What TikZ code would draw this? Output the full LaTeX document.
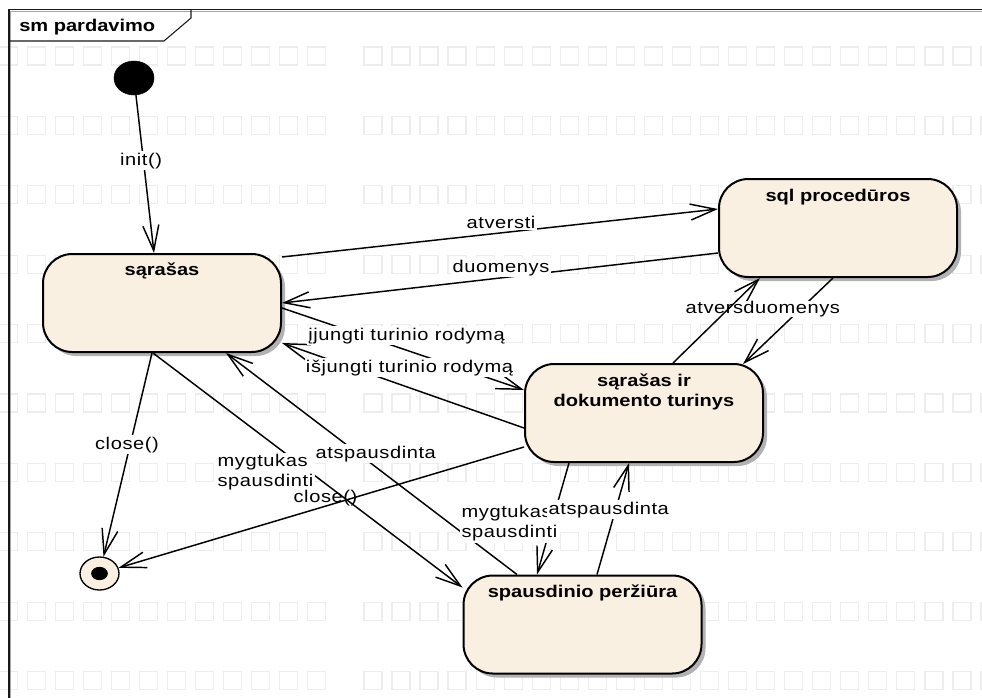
\documentclass[tikz,border=0pt]{standalone}
\usepackage{fontspec}
\setmainfont{Liberation Sans}[FakeStretch=1.18, LetterSpace=3.5]
\newfontfamily\titlefont{Liberation Sans}[FakeStretch=1.18]
\usetikzlibrary{arrows.meta,calc,shadows,shapes.geometric}
\definecolor{statefill}{RGB}{250,240,225}
\definecolor{gridgray}{RGB}{237,237,237}
\begin{document}
\begin{tikzpicture}[x=0.75pt,y=-0.75pt,
  every node/.style={font=\fontsize{12.75}{15}\selectfont},
  gridsq/.style={draw=gridgray, line width=0.9pt},
  statebox/.style={rectangle, draw=black, line width=1.5pt, fill=statefill,
    minimum width=178.5pt, minimum height=73.5pt, inner sep=0pt,
    rounded corners=22pt,
    drop shadow={shadow xshift=3pt, shadow yshift=-3pt, fill=black!30, opacity=1}},
  stitle/.style={font=\fontsize{12.75}{15}\selectfont\titlefont\bfseries, inner sep=0pt, anchor=base},
  conn/.style={draw=black, line width=1.1pt, -{Straight Barb[length=19pt,width=12pt]}},
  lbl/.style={fill=white, inner sep=1pt},
]
\useasboundingbox (0,0) rectangle (982,697);
% watermark squares
\foreach \j in {0,...,9}{
  \foreach \k in {0,...,35}{
    \ifnum\k=12\relax\else
      \draw[gridsq] ({-0.75+28.05*\k},{47+69.4*\j}) rectangle ++(18,18);
    \fi
  }
}
% frame
\draw[black!35, line width=1pt] (10.8,710) -- (10.8,11.3) -- (995,11.3);
\draw[black!90, line width=1pt] (9,710) -- (9,9.5) -- (995,9.5);
\draw[black!90, line width=0.8pt] (9,41) -- (164,41) -- (191,18) -- (191,9.5);
\node[font=\fontsize{12.75}{15}\selectfont\titlefont\bfseries, inner sep=0pt, anchor=base west] (ftitle) at (19,31) {sm pardavimo};

% states
\node[statebox] (sar) at (162,303) {};
\node[stitle] (sart) at (162,275) {sąrašas};
\node[statebox] (sql) at (838,228) {};
\node[stitle] (sqlt) at (838,201) {sql procedūros};
\node[statebox] (sdt) at (644,413) {};
\node[stitle] (sdta) at (644,386) {sąrašas ir};
\node[stitle] (sdtb) at (644,406) {dokumento turinys};
\node[statebox] (spp) at (582.5,624.5) {};
\node[stitle] (sppt) at (582.5,597) {spausdinio peržiūra};

% pseudo states
\node[ellipse, draw=black, fill=black, minimum width=30pt, minimum height=25.5pt, inner sep=0pt] (ini) at (134,78) {};
\node[ellipse, draw=black, line width=1pt, fill=statefill, minimum width=29.25pt, minimum height=24.75pt, inner sep=0pt] (fin) at (99.5,573.5) {};
\node[ellipse, fill=black, minimum width=12.5pt, minimum height=10pt, inner sep=0pt] (fincore) at (fin) {};

% connectors
\draw[conn] (ini) -- ($(sar.north)+(-8,0)$);
\draw[conn] ($(sar.east)+(0,-46)$) -- ($(sql.west)+(0,-19)$);
\draw[conn] ($(sql.west)+(0,25)$) -- (sar.east);
\draw[conn] ($(sar.east)+(0,5)$) -- ($(sdt.west)+(0,-23)$);
\draw[conn] ($(sdt.west)+(0,15)$) -- ($(sar.east)+(0,40)$);
\draw[conn] ($(sdt.north)+(29,0)$) -- ($(sql.south)+(-78,0)$);
\draw[conn] ($(sql.south)+(-5,0)$) -- ($(sdt.north)+(99,1)$);
\draw[conn] ($(sar.south)+(-9,0)$) -- ($(spp.west)+(0,-37)$);
\draw[conn] ($(spp.north)+(-65.5,0)$) -- ($(sar.south)+(64,0)$);
\draw[conn] ($(sar.south)+(-10,0)$) -- (fin);
\draw[conn] ($(sdt.west)+(0,34)$) -- (fin);
\draw[conn] ($(sdt.south)+(-75,0)$) -- ($(spp.north)+(-45.5,0)$);
\draw[conn] ($(spp.north)+(14.5,0)$) -- ($(sdt.south)+(-15,0)$);

% labels
\node[lbl, anchor=base] (linit) at (141,165) {init()};
\node[lbl, anchor=base] (latv) at (501,228) {atversti};
\node[lbl, anchor=base] (lduo) at (501,272) {duomenys};
\node[lbl, anchor=base] (lijun) at (406.5,340) {įjungti turinio rodymą};
\node[lbl, anchor=base] (lisjun) at (409.5,372) {išjungti turinio rodymą};
\node[lbl, inner sep=0pt, anchor=base west] (lduo2) at (743,313) {duomenys};
\node[inner sep=1pt, anchor=base west] (latvers) at (684,313) {atvers};
\node[lbl, anchor=base] (lclose1) at (127,449) {close()};
\node[lbl, anchor=north west, align=left] (lmyg1) at (216,453) {mygtukas\\spausdinti};
\node[lbl, anchor=base west] (latsp1) at (314,458) {atspausdinta};
\node[inner sep=1pt, anchor=base west] (lclose2) at (292,502) {close()};
\node[lbl, anchor=north west, align=left] (lmyg2) at (460,504) {mygtukas\\spausdinti};
\node[lbl, anchor=base west] (latsp2) at (547,514) {atspausdinta};
\end{tikzpicture}
\end{document}
